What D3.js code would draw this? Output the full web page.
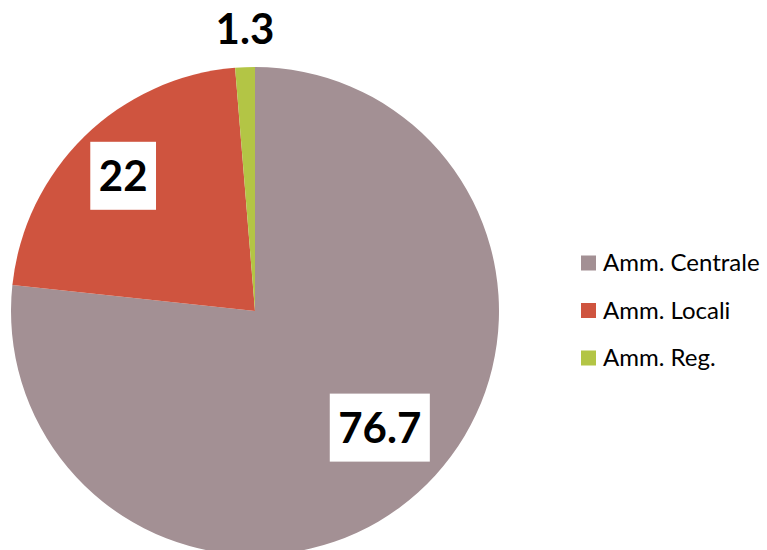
<!DOCTYPE html>
<html>
<head>
<meta charset="utf-8">
<script src="https://cdn.jsdelivr.net/npm/d3@7"></script>
<style>
  body { margin: 0; background: #fff; }
  svg { display: block; }
</style>
</head>
<body>
<div id="chart"></div>
<script>
// chart data
var categories = ["Amm. Centrale", "Amm. Locali", "Amm. Reg."];
var values = [76.7, 22, 1.3];
var colors = ["#A39094", "#CF543F", "#B3C545"];

var w = 767;
var h = 550;
var cx = 255, cy = 311, radius = 244;

var svg = d3.select("#chart").append("svg")
  .attr("width", w)
  .attr("height", h);

var pie = d3.pie().sort(null).value(function(d) { return d; });
var arcs = pie(values);
var arc = d3.arc().innerRadius(0).outerRadius(radius);

var g = svg.append("g").attr("transform", "translate(" + cx + "," + cy + ")");

g.selectAll("path")
  .data(arcs)
  .enter()
  .append("path")
  .attr("d", arc)
  .attr("fill", function(d, i) { return colors[i]; });

// label placement: radius fraction and angle shift (degrees) for each slice label
var labelR = [0.70, 0.774, 1.155];
var labelShift = [-5, 0, 0.3];
var boxed = [true, true, false];

arcs.forEach(function(d, i) {
  var a = (d.startAngle + d.endAngle) / 2 + labelShift[i] * Math.PI / 180;
  var r = radius * labelR[i];
  var x = Math.sin(a) * r;
  var y = -Math.cos(a) * r;
  var lg = g.append("g").attr("transform", "translate(" + x + "," + y + ")");
  var t = lg.append("text")
    .attr("text-anchor", "middle")
    .attr("dy", "0.36em")
    .style("font-family", "Lato, 'Open Sans', sans-serif")
    .style("font-weight", "bold")
    .style("font-size", "42px")
    .attr("fill", "#000")
    .text(d3.format("")(values[i]));
  if (boxed[i]) {
    var bb = t.node().getBBox();
    lg.insert("rect", "text")
      .attr("x", bb.x - 8.5)
      .attr("y", -34)
      .attr("width", bb.width + 17)
      .attr("height", 68)
      .attr("fill", "#fff");
  }
});

// legend
var legend = svg.append("g").attr("transform", "translate(581,263)");
var items = legend.selectAll("g")
  .data(categories)
  .enter()
  .append("g")
  .attr("transform", function(d, i) { return "translate(0," + (i * 47.5) + ")"; });

items.append("rect")
  .attr("x", 0)
  .attr("y", -7.5)
  .attr("width", 15)
  .attr("height", 15)
  .attr("fill", function(d, i) { return colors[i]; });

items.append("text")
  .attr("x", 22)
  .attr("y", 0)
  .attr("dy", "0.35em")
  .style("font-family", "Lato, 'Open Sans', sans-serif")
  .style("font-size", "24px")
  .attr("fill", "#000")
  .text(function(d) { return d; });
</script>
</body>
</html>
